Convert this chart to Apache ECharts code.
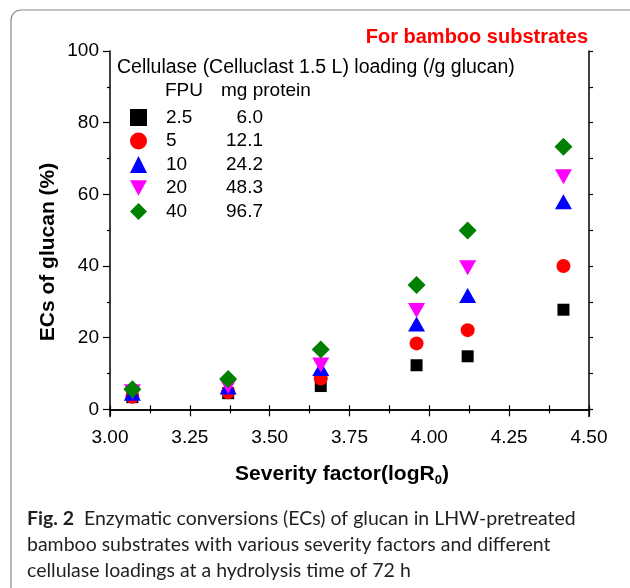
<!DOCTYPE html>
<html>
<head>
<meta charset="utf-8">
<script src="https://cdn.jsdelivr.net/npm/echarts@6/dist/echarts.min.js"></script>
<style>
html,body{margin:0;padding:0;background:#fff;}
#main{width:630px;height:588px;}
</style>
</head>
<body>
<div id="main"></div>
<script>
var severity=[3.07,3.37,3.66,3.96,4.12,4.42];
var fpu=['2.5','5','10','20','40'];
var protein=['6.0','12.1','24.2','48.3','96.7'];
var ec_25=[3.4,4.5,6.5,12.3,14.8,27.8];
var ec_5=[3.5,4.8,8.6,18.4,22.1,40.0];
var ec_10=[4.5,6.2,11.4,23.8,31.8,57.9];
var ec_20=[4.9,6.4,12.4,27.6,39.5,64.9];
var ec_40=[5.6,8.5,16.7,34.7,49.9,73.3];
var y_ticks=[0,20,40,60,80,100];
var y_minor=[10,30,50,70,90];
var all_y=[0,10,20,30,40,50,60,70,80,90,100];

var colors=['#000000','#ff0000','#0000ff','#ff00ff','#008000'];
var symbols=['rect','circle','triangle','path://M0,0L10,0L5,9Z','diamond'];
var sizes=[12,14,[17,15],[17,15],18];
var values=[ec_25,ec_5,ec_10,ec_20,ec_40];
var font='"Liberation Sans", Arial, sans-serif';

var series=[];
for(var i=0;i<fpu.length;i++){
    var pts=[];
    for(var j=0;j<severity.length;j++){
        pts.push([severity[j],values[i][j]]);
    }
    series.push({
        name:fpu[i],
        type:'scatter',
        symbol:symbols[i],
        symbolSize:sizes[i],
        itemStyle:{color:colors[i],opacity:1},
        data:pts
    });
}

var chart=echarts.init(document.getElementById('main'));
chart.setOption({
    animation:false,
    grid:{left:110,right:41,top:51,bottom:171.5},
    xAxis:[{
        type:'value',min:3,max:4.5,interval:0.25,
        axisLine:{lineStyle:{color:'#000',width:1.5}},
        axisTick:{length:7,lineStyle:{color:'#000',width:1.2}},
        minorTick:{show:true,splitNumber:2,length:4,lineStyle:{color:'#000',width:1.2}},
        axisLabel:{color:'#000',fontSize:19,fontFamily:font,margin:12,
            formatter:function(v){return v.toFixed(2);}},
        splitLine:{show:false}
    },{
        type:'value',position:'top',min:3,max:4.5,interval:0.25,
        axisLine:{lineStyle:{color:'#000',width:1.5}},
        axisTick:{length:4,lineStyle:{color:'#000',width:1.2}},
        minorTick:{show:true,splitNumber:2,length:4,lineStyle:{color:'#000',width:1.2}},
        axisLabel:{show:false},splitLine:{show:false}
    }],
    yAxis:[{
        type:'value',min:-2,max:100,
        axisLine:{show:true,lineStyle:{color:'#000',width:1.5}},
        axisTick:{show:true,length:7,customValues:y_ticks,lineStyle:{color:'#000',width:1.2}},
        axisLabel:{color:'#000',fontSize:19,fontFamily:font,margin:11,customValues:y_ticks},
        splitLine:{show:false}
    },{
        type:'value',min:-2,max:100,position:'left',
        axisLine:{show:false},
        axisTick:{show:true,length:3,customValues:y_minor,lineStyle:{color:'#000',width:1.2}},
        axisLabel:{show:false},splitLine:{show:false}
    },{
        type:'value',min:-2,max:100,position:'right',
        axisLine:{show:true,lineStyle:{color:'#000',width:1.5}},
        axisTick:{show:true,length:4,customValues:all_y,lineStyle:{color:'#000',width:1.2}},
        axisLabel:{show:false},splitLine:{show:false}
    }],
    legend:{
        orient:'vertical',left:130,top:107.5,padding:0,
        itemWidth:17,itemHeight:17,itemGap:3.5,
        data:fpu,
        textStyle:{color:'#000',fontSize:19,fontFamily:font,lineHeight:20,
            rich:{
                a:{fontSize:19,fontFamily:font,width:57,padding:[0,0,0,14]},
                b:{fontSize:19,fontFamily:font,width:40,align:'right'}
            }},
        formatter:function(name){
            return '{a|'+name+'}{b|'+protein[fpu.indexOf(name)]+'}';
        }
    },
    graphic:[
        {type:'rect',shape:{x:11,y:10,width:640,height:600,r:10},
            style:{fill:'none',stroke:'#8a8a8a',lineWidth:1.2},silent:true},
        {type:'text',right:42,top:27,style:{text:'For bamboo substrates',fill:'#ff0000',
            font:'bold 20px '+font}},
        {type:'text',left:117,top:58,style:{text:'Cellulase (Celluclast 1.5 L) loading (/g glucan)',
            fill:'#000',font:'19.5px '+font}},
        {type:'text',left:165,top:81,style:{text:'FPU',fill:'#000',font:'19px '+font}},
        {type:'text',left:221,top:81,style:{text:'mg protein',fill:'#000',font:'19px '+font}},
        {type:'text',x:48,y:252,rotation:Math.PI/2,
            style:{text:'ECs of glucan (%)',fill:'#000',font:'bold 21px '+font,
                align:'center',verticalAlign:'middle'}},
        {type:'text',x:342,y:474,
            style:{text:'Severity factor(logR{s|0})',fill:'#000',font:'bold 21px '+font,
                align:'center',verticalAlign:'middle',
                rich:{s:{font:'bold 13px '+font,fill:'#000',padding:[12,0,0,0]}}}},
        {type:'text',left:27,top:506,
            style:{text:'{b|Fig. 2}  Enzymatic conversions (ECs) of glucan in LHW-pretreated\nbamboo substrates with various severity factors and different\ncellulase loadings at a hydrolysis time of 72 h',
                fill:'#231f20',font:'19.5px Lato, sans-serif',lineHeight:26,
                rich:{b:{font:'bold 19.5px Lato, sans-serif',fill:'#231f20',lineHeight:26}}}}
    ],
    series:series
});
</script>
</body>
</html>
